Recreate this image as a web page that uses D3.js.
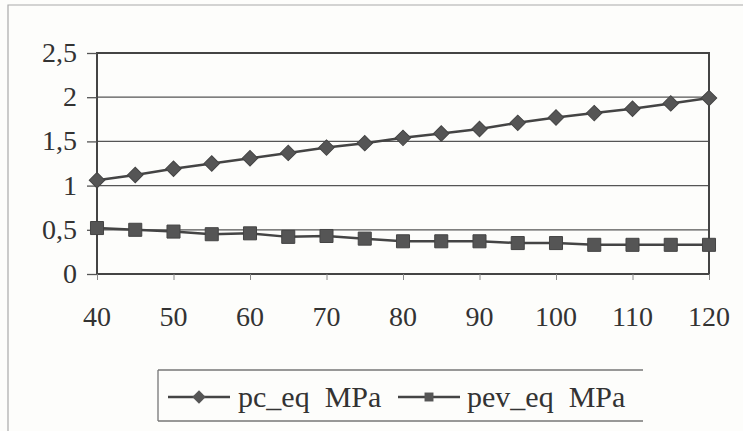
<!DOCTYPE html>
<html>
<head>
<meta charset="utf-8">
<script src="https://cdn.jsdelivr.net/npm/d3@7"></script>
</head>
<body style="margin:0; background:#fdfdfb">
<svg id="chart"></svg>
<script>
var w = 743;
var h = 431;

// pressure values, MPa
var xValues = [40, 45, 50, 55, 60, 65, 70, 75, 80, 85, 90, 95, 100, 105, 110, 115, 120];
var pcEq = [1.06, 1.12, 1.19, 1.25, 1.31, 1.37, 1.43, 1.48, 1.54, 1.59, 1.64, 1.71, 1.77, 1.82, 1.87, 1.93, 1.99];
var pevEq = [0.52, 0.50, 0.48, 0.45, 0.46, 0.42, 0.43, 0.40, 0.37, 0.37, 0.37, 0.35, 0.35, 0.33, 0.33, 0.33, 0.33];
var xTicks = [40, 50, 60, 70, 80, 90, 100, 110, 120];
var yTicks = [0, 0.5, 1, 1.5, 2, 2.5];
var seriesNames = ["pc_eq\u00a0\u00a0MPa", "pev_eq\u00a0\u00a0MPa"];

var svg = d3.select("#chart")
    .attr("width", w)
    .attr("height", h);

// outer chart frame (only left/top visible in the scan)
svg.append("path")
    .attr("d", "M750,5 H8 V431")
    .attr("fill", "none")
    .attr("stroke", "#aaa")
    .attr("stroke-width", 1.2);

var x = d3.scaleLinear().domain([40, 120]).range([97, 709]);
var y = d3.scaleLinear().domain([0, 2.5]).range([274, 53]);

var fmt = function (d) { return String(d).replace(".", ","); };

//gridlines
svg.append("g")
    .selectAll("line")
    .data(yTicks.slice(1))
    .enter()
    .append("line")
    .attr("x1", x(40))
    .attr("x2", x(120))
    .attr("y1", function (d) { return y(d); })
    .attr("y2", function (d) { return y(d); })
    .style("stroke", "#555")
    .style("stroke-width", 1.3);

// plot box
svg.append("rect")
    .attr("x", x(40))
    .attr("y", y(2.5))
    .attr("width", x(120) - x(40))
    .attr("height", y(0) - y(2.5))
    .attr("fill", "none")
    .attr("stroke", "#444")
    .attr("stroke-width", 2);

// axes: tick marks from d3.axis, labels drawn straight on the svg
var yAxis = svg.append("g")
    .attr("transform", "translate(" + x(40) + ",0)")
    .call(d3.axisLeft(y).tickValues(yTicks).tickSize(10));
yAxis.select(".domain").remove();
yAxis.selectAll(".tick text").remove();
yAxis.selectAll(".tick line").style("stroke", "#555").style("stroke-width", 1.3);

var xAxis = svg.append("g")
    .attr("transform", "translate(0," + y(0) + ")")
    .call(d3.axisBottom(x).tickValues(xTicks).tickSize(6));
xAxis.select(".domain").remove();
xAxis.selectAll(".tick text").remove();
xAxis.selectAll(".tick line").style("stroke", "#888").style("stroke-width", 1);

svg.selectAll("text.ylab")
    .data(yTicks)
    .enter()
    .append("text")
    .attr("class", "ylab")
    .attr("x", x(40) - 20)
    .attr("y", function (d) { return y(d) + 9; })
    .attr("text-anchor", "end")
    .attr("font-size", 28)
    .attr("font-family", function () { return "Liberation Serif"; })
    .attr("fill", "#333")
    .text(fmt);

svg.selectAll("text.xlab")
    .data(xTicks)
    .enter()
    .append("text")
    .attr("class", "xlab")
    .attr("x", function (d) { return x(d); })
    .attr("y", y(0) + 52)
    .attr("text-anchor", "middle")
    .attr("font-size", 28)
    .attr("font-family", function () { return "Liberation Serif"; })
    .attr("fill", "#333")
    .text(function (d) { return d; });

var line = d3.line();

function drawSeries(values, rotate, size) {
    var pts = xValues.map(function (d, i) { return [x(d), y(values[i])]; });
    svg.append("path")
        .attr("d", line(pts))
        .attr("fill", "none")
        .attr("stroke", "#444")
        .attr("stroke-width", 2.5);
    svg.append("g")
        .selectAll("path")
        .data(pts)
        .enter()
        .append("path")
        .attr("d", d3.symbol().type(d3.symbolSquare).size(size))
        .attr("transform", function (d) {
            return "translate(" + d[0] + "," + d[1] + ") rotate(" + rotate + ")";
        })
        .attr("fill", "#555")
        .attr("stroke", "#444")
        .attr("stroke-width", 1);
}

drawSeries(pcEq, 45, 120);
drawSeries(pevEq, 0, 170);

// legend
svg.append("path")
    .attr("d", "M158,370 H643 M158,421 H643 M158,370 V421")
    .attr("fill", "none")
    .attr("stroke", "#777")
    .attr("stroke-width", 1.3);

var legendItems = [
    { name: seriesNames[0], x1: 168, size: 90, rot: 45, tx: 238 },
    { name: seriesNames[1], x1: 398, size: 80, rot: 0, tx: 467 }
];
legendItems.forEach(function (d) {
    svg.append("line")
        .attr("x1", d.x1).attr("x2", d.x1 + 62)
        .attr("y1", 397).attr("y2", 397)
        .attr("stroke", "#444").attr("stroke-width", 2.5);
    svg.append("path")
        .attr("d", d3.symbol().type(d3.symbolSquare).size(d.size))
        .attr("transform", "translate(" + (d.x1 + 31) + ",397) rotate(" + d.rot + ")")
        .attr("fill", "#555");
});

svg.selectAll("text.leg")
    .data(legendItems)
    .enter()
    .append("text")
    .attr("class", "leg")
    .attr("x", function (d) { return d.tx; })
    .attr("y", 407)
    .attr("font-size", 30)
    .attr("font-family", function () { return "Liberation Serif"; })
    .attr("fill", "#333")
    .text(function (d) { return d.name; });
</script>
</body>
</html>
